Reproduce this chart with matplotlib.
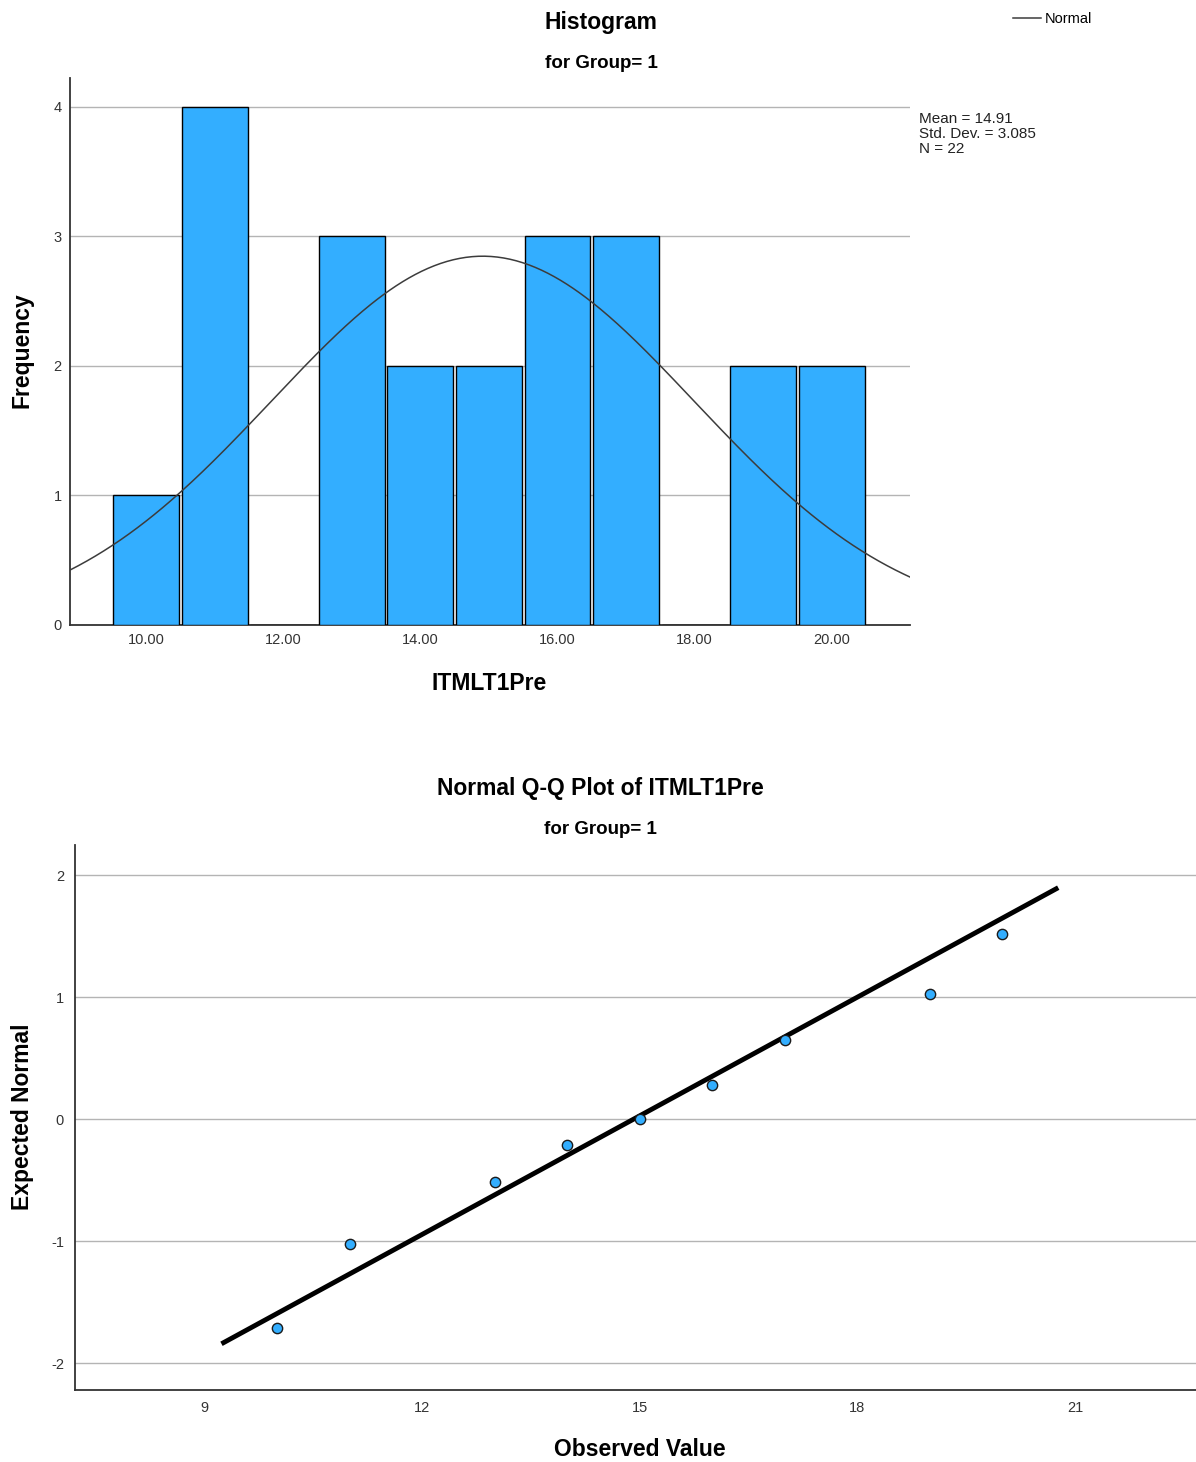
import numpy as np
import matplotlib
matplotlib.use("Agg")
import matplotlib.pyplot as plt

plt.rcParams['font.family'] = ['Liberation Sans', 'DejaVu Sans']
plt.rcParams['axes.unicode_minus'] = False

# ITMLT1Pre scores for Group 1 and their frequencies
scores = [10, 11, 12, 13, 14, 15, 16, 17, 18, 19, 20]
counts = [1, 4, 0, 3, 2, 2, 3, 3, 0, 2, 2]

# Q-Q plot: distinct observed values and their expected normal values
qq_observed = [10, 11, 13, 14, 15, 16, 17, 19, 20]
qq_expected = [-1.71, -1.02, -0.51, -0.21, 0.0, 0.28, 0.65, 1.03, 1.52]
line_x = [9.23, 20.77]

data = np.repeat(scores, counts)
mean = data.mean()
sd = data.std(ddof=1)
n = len(data)

bar_color = '#33aeff'
grid_color = '#b4b4b4'
spine_color = '#333333'
tick_color = '#333333'

W, H = 1196, 1462
fig = plt.figure(figsize=(W / 100, H / 100), dpi=100)


def px(x, y):
    return x / W, 1 - y / H


# ---- Histogram ----
ax1 = fig.add_axes([70/W, 1-625/H, 840/W, 547/H])
ax1.bar(scores, counts, width=0.96, color=bar_color, edgecolor='black',
        linewidth=1.0, zorder=3)
xs = np.linspace(8.89, 21.14, 400)
pdf = n * 1.0 * np.exp(-0.5 * ((xs - mean) / sd) ** 2) / (sd * np.sqrt(2 * np.pi))
ax1.plot(xs, pdf, color='#3c3c3c', linewidth=1.1, zorder=4, label='Normal')
ax1.set_xlim(8.89, 21.14)
ax1.set_ylim(0, 4.22)
ax1.set_xticks([10, 12, 14, 16, 18, 20])
ax1.set_xticklabels([f'{v:.2f}' for v in [10, 12, 14, 16, 18, 20]])
ax1.set_yticks([0, 1, 2, 3, 4])
ax1.yaxis.grid(True, color=grid_color, linewidth=1.0, zorder=0)
ax1.set_axisbelow(True)
ax1.tick_params(length=0, labelsize=10.5, colors=tick_color, pad=6)
for s in ['top', 'right']:
    ax1.spines[s].set_visible(False)
for s in ['left', 'bottom']:
    ax1.spines[s].set_color(spine_color)
    ax1.spines[s].set_linewidth(1.3)

fig.text(*px(601, 22), 'Histogram', ha='center', va='center',
         fontsize=16.5, fontweight='bold')
fig.text(*px(601, 63), 'for Group= 1', ha='center', va='center',
         fontsize=13.5, fontweight='bold')
fig.text(*px(489, 683), 'ITMLT1Pre', ha='center', va='center',
         fontsize=16.5, fontweight='bold')
fig.text(*px(22, 350), 'Frequency', ha='center', va='center',
         fontsize=16.5, fontweight='bold', rotation=90)
fig.text(*px(919, 134),
         f'Mean = {mean:.2f}\nStd. Dev. = {sd:.3f}\nN = {n}',
         ha='left', va='center', fontsize=11, linespacing=1.08, color='#222222')
fig.legend(loc='center left', bbox_to_anchor=px(1013, 19),
           frameon=False, fontsize=10.5, handlelength=1.9, handletextpad=0.3,
           borderaxespad=0, borderpad=0)

# ---- Normal Q-Q plot ----
ax2 = fig.add_axes([75/W, 1-1390/H, 1121/W, 545/H])
line_y = [(x - mean) / sd for x in line_x]
ax2.plot(line_x, line_y, color='black', linewidth=3.5, zorder=3,
         solid_capstyle='butt')
ax2.scatter(qq_observed, qq_expected, s=55, color=bar_color,
            edgecolor='#1a1a1a', linewidth=1.0, zorder=4)
ax2.set_xlim(7.21, 22.67)
ax2.set_ylim(-2.22, 2.25)
ax2.set_xticks([9, 12, 15, 18, 21])
ax2.set_yticks([-2, -1, 0, 1, 2])
ax2.yaxis.grid(True, color=grid_color, linewidth=1.0, zorder=0)
ax2.set_axisbelow(True)
ax2.tick_params(length=0, labelsize=10.5, colors=tick_color, pad=8)
for s in ['top', 'right']:
    ax2.spines[s].set_visible(False)
for s in ['left', 'bottom']:
    ax2.spines[s].set_color(spine_color)
    ax2.spines[s].set_linewidth(1.3)

fig.text(*px(600, 789), 'Normal Q-Q Plot of ITMLT1Pre', ha='center',
         va='center', fontsize=16.5, fontweight='bold')
fig.text(*px(600, 830), 'for Group= 1', ha='center', va='center',
         fontsize=13.5, fontweight='bold')
fig.text(*px(640, 1449), 'Observed Value', ha='center', va='center',
         fontsize=16.5, fontweight='bold')
fig.text(*px(22, 1117), 'Expected Normal', ha='center', va='center',
         fontsize=16.5, fontweight='bold', rotation=90)

fig.savefig('out.png', dpi=100)
